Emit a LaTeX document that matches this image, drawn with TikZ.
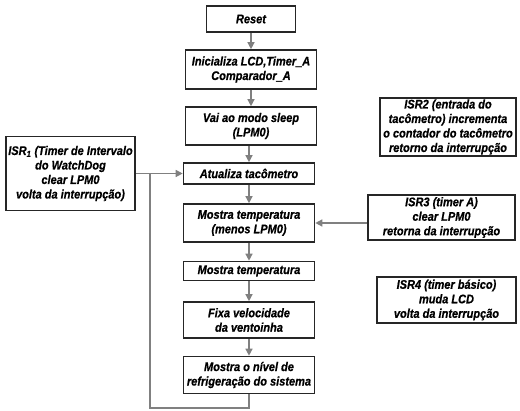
\documentclass[tikz,border=0pt]{standalone}
\usepackage{fontspec}
\usetikzlibrary{arrows.meta}
\newfontfamily\caixafont{Liberation Sans}[FakeStretch=0.88, BoldItalicFeatures={FakeBold=0.6}]

\begin{document}
\begin{tikzpicture}[x=1pt, y=-1pt,
    caixa/.style={draw=black!85, line width=1.6pt, align=center, inner sep=0pt,
      font=\caixafont\bfseries\itshape\fontsize{12.5}{14.5}\selectfont, minimum width=131pt},
    seta/.style={draw=black!50, line width=1.3pt, -{Triangle[length=7pt,width=7pt]}},
    linha/.style={draw=black!50, line width=1.3pt}]
    \useasboundingbox (0,0) rectangle (520,411);

    % Fluxo principal
    \node[caixa, minimum width=89pt, minimum height=26pt] (reset) at (251,19) {Reset};
    \node[caixa, minimum height=39pt] (init) at (251,69.5) {Inicializa LCD,Timer\_A\\Comparador\_A};
    \node[caixa, minimum height=38pt] (sleep) at (251,126) {Vai ao modo sleep\\(LPM0)};
    \node[caixa, minimum height=21pt] (atual) at (249,173.5) {Atualiza tacômetro};
    \node[caixa, minimum height=38pt] (temp1) at (249,223) {Mostra temperatura\\(menos LPM0)};
    \node[caixa, minimum height=19pt] (temp2) at (249,271) {Mostra temperatura};
    \node[caixa, minimum height=36pt] (fixa) at (249,320) {Fixa velocidade\\da ventoinha};
    \node[caixa, minimum height=37pt] (nivel) at (249,375) {Mostra o nível de\\refrigeração do sistema};

    % Rotinas de interrupção
    \node[caixa, minimum width=129pt, minimum height=74pt] (isr1) at (70.5,173.5)
        {ISR\textsubscript{1} (Timer de Intervalo\\do WatchDog\\clear LPM0\\volta da interrupção)};
    \node[caixa, minimum width=136pt, minimum height=58pt] (isr2) at (448,127)
        {ISR2 (entrada do\\tacômetro) incrementa\\o contador do tacômetro\\retorno da interrupção};
    \node[caixa, minimum width=147pt, minimum height=45pt] (isr3) at (441.5,217.5)
        {ISR3 (timer A)\\clear LPM0\\retorna da interrupção};
    \node[caixa, minimum width=139pt, minimum height=46pt] (isr4) at (446.5,300)
        {ISR4 (timer básico)\\muda LCD\\volta da interrupção};

    % Setas
    \draw[seta] (reset) -- (init);
    \draw[seta] (init) -- (sleep);
    \draw[seta] (sleep.south -| atual) -- (atual);
    \draw[seta] (atual) -- (temp1);
    \draw[seta] (temp1) -- (temp2);
    \draw[seta] (temp2) -- (fixa);
    \draw[seta] (fixa) -- (nivel);
    \draw[seta] (isr1) -- (atual);
    \draw[seta] (isr3.west |- temp1.east) -- (temp1.east);

    % Retorno do laço
    \coordinate (fundo) at (150,408);
    \coordinate (juncao) at (150,173.5);
    \draw[linha] (nivel.south) |- (fundo) -- (juncao);
\end{tikzpicture}
\end{document}
